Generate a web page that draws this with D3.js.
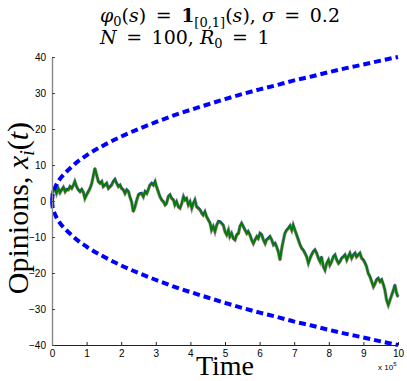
<!DOCTYPE html>
<html>
<head>
<meta charset="utf-8">
<script src="https://cdn.jsdelivr.net/npm/d3@7/dist/d3.min.js"></script>
<style>
  html, body { margin: 0; padding: 0; background: #fff; }
  svg { display: block; }
  .axis text { font-family: "Liberation Sans", Arial, sans-serif; font-size: 10px; fill: #000; }
</style>
</head>
<body>
<svg id="chart" width="407" height="381"></svg>
<script>
// ---- data ----
const xTicks = [0, 1, 2, 3, 4, 5, 6, 7, 8, 9, 10];
const yTicks = [-40, -30, -20, -10, 0, 10, 20, 30, 40];

// bound curves (time in units of 1e5)
const boundT = [0, 0.02, 0.05, 0.1, 0.2, 0.35, 0.5, 0.75, 1, 1.5, 2, 2.5, 3, 3.5, 4, 4.5, 5, 5.5, 6, 6.5, 7, 7.5, 8, 8.5, 9, 9.5, 10];
const upperV = [0, 1.8, 2.8, 4.0, 5.7, 7.5, 8.9, 11.0, 12.7, 15.5, 17.9, 20.0, 21.9, 23.7, 25.3, 26.8, 28.3, 29.7, 31.0, 32.2, 33.5, 34.6, 35.8, 36.9, 37.9, 39.0, 40.0];
const lowerV = [0, -1.8, -2.8, -4.0, -5.7, -7.5, -8.9, -11.0, -12.7, -15.5, -17.9, -20.0, -21.9, -23.7, -25.3, -26.8, -28.3, -29.7, -31.0, -32.2, -33.5, -34.6, -35.8, -36.9, -37.9, -39.0, -40.0];

// clustered opinions (the 100 agents move together)
const opinionT = [0, 0.02, 0.09, 0.13, 0.18, 0.23, 0.28, 0.33, 0.38, 0.42, 0.47, 0.52, 0.57, 0.62, 0.66, 0.71, 0.76, 0.81, 0.86, 0.91, 0.95,
  1.00, 1.05, 1.10, 1.15, 1.19, 1.24, 1.29, 1.34, 1.39, 1.44, 1.48, 1.53, 1.58, 1.63, 1.68, 1.72, 1.77, 1.82, 1.87, 1.92, 1.97,
  2.01, 2.06, 2.11, 2.16, 2.21, 2.25, 2.30, 2.35, 2.40, 2.45, 2.50, 2.54, 2.59, 2.64, 2.69, 2.74, 2.78, 2.83, 2.88, 2.93, 2.98,
  3.02, 3.07, 3.12, 3.17, 3.22, 3.27, 3.31, 3.36, 3.41, 3.46, 3.51, 3.55, 3.60, 3.65, 3.70, 3.75, 3.80, 3.84, 3.89, 3.94, 3.99,
  4.04, 4.08, 4.13, 4.18, 4.23, 4.28, 4.33, 4.37, 4.42, 4.47, 4.52, 4.57, 4.61, 4.66, 4.71, 4.76, 4.81, 4.86, 4.90, 4.95,
  5.00, 5.05, 5.10, 5.14, 5.19, 5.24, 5.29, 5.34, 5.39, 5.43, 5.48, 5.53, 5.58, 5.63, 5.67, 5.72, 5.77, 5.82, 5.87, 5.92, 5.96,
  6.01, 6.06, 6.11, 6.16, 6.20, 6.25, 6.30, 6.35, 6.40, 6.45, 6.49, 6.54, 6.59, 6.64, 6.69, 6.73, 6.78, 6.83, 6.88, 6.93, 6.97,
  7.02, 7.07, 7.12, 7.17, 7.22, 7.26, 7.31, 7.36, 7.41, 7.46, 7.50, 7.55, 7.60, 7.65, 7.70, 7.75, 7.79, 7.84, 7.89, 7.94, 7.99,
  8.03, 8.08, 8.13, 8.18, 8.23, 8.28, 8.32, 8.37, 8.42, 8.47, 8.52, 8.56, 8.61, 8.66, 8.71, 8.76, 8.80, 8.85, 8.90, 8.95,
  9.00, 9.05, 9.09, 9.14, 9.19, 9.24, 9.29, 9.34, 9.38, 9.43, 9.48, 9.53, 9.58, 9.62, 9.67, 9.72, 9.77, 9.82, 9.87, 9.91, 9.96, 10.00];
const opinionV = [1.5, 2.6, 3.2, 2.1, 3.5, 2.3, 3.1, 3.8, 2.6, 3.2, 3.1, 4.0, 3.5, 4.4, 5.4, 4.0, 3.1, 2.6, 3.2, 2.3, 0.7,
  1.7, 2.6, 3.5, 4.9, 6.8, 9.1, 7.2, 5.4, 4.9, 5.4, 4.0, 4.4, 4.9, 3.5, 4.0, 4.4, 5.4, 6.0, 4.9, 4.0, 4.4,
  3.5, 3.1, 2.1, 3.1, 2.6, 1.2, -0.2, -3.0, -1.6, 0.3, 1.7, 2.0, 2.1, 1.2, 2.6, 2.1, 3.1, 4.4, 4.9, 4.4, 5.4,
  4.0, 2.6, 1.2, 0.3, -0.2, -1.1, -0.7, 1.2, 1.7, 0.7, 0.3, -1.1, -0.2, -1.6, -2.0, -0.7, 1.2, 0.3, 0.7, -1.1, -0.2,
  -2.0, -0.7, 0.3, -1.6, -2.0, -2.5, -3.4, -3.9, -3.0, -4.4, -5.3, -6.2, -8.1, -7.1, -8.5, -6.7, -5.7, -5.8, -6.2, -6.7,
  -8.5, -9.4, -8.1, -9.9, -9.0, -10.4, -10.8, -9.4, -9.0, -7.1, -6.2, -7.1, -8.1, -9.0, -8.5, -9.4, -10.8, -11.8, -10.8, -9.9, -10.4,
  -9.0, -9.4, -10.8, -11.8, -10.8, -10.4, -9.9, -10.8, -12.2, -11.8, -12.7, -14.1, -16.4, -13.2, -10.8, -9.0, -8.1, -7.6, -6.9, -8.1, -6.7,
  -8.1, -9.4, -10.8, -12.2, -13.2, -13.6, -14.5, -15.5, -17.3, -15.9, -15.0, -14.1, -13.6, -14.5, -15.9, -16.9, -15.5, -18.2, -19.2, -17.3, -16.4,
  -17.8, -16.9, -15.5, -15.0, -16.4, -17.3, -16.9, -15.9, -15.5, -15.0, -16.4, -15.5, -14.5, -15.9, -15.0, -14.5, -15.5, -15.0, -14.5, -15.9,
  -16.4, -17.3, -18.2, -20.1, -21.0, -22.4, -23.8, -22.9, -21.9, -21.5, -22.4, -21.9, -23.3, -24.7, -27.5, -28.9, -27.5, -26.1, -24.7, -23.3, -25.7, -26.6];

const svg = d3.select("#chart");
const margin = { top: 57, right: 9, bottom: 36, left: 52 };
const W = 407, H = 381;

const x = d3.scaleLinear().domain([0, 10]).range([margin.left, W - margin.right]);
const y = d3.scaleLinear().domain([-40, 40]).range([H - margin.bottom, margin.top]);

// opinions band: a few coloured agents under the green one
const opinions = opinionT.map((t, i) => [t, opinionV[i]]);
const line = d3.line().x(d => x(d[0])).y(d => y(d[1]));

const layers = [
  { color: "#333", width: 3.4, dy: 0, op: 0.55 },
  { color: "#0000ff", width: 1.2, dy: -0.9, op: 0.8 },
  { color: "#ff0000", width: 1.1, dy: 0.9, op: 0.6 },
  { color: "#bf00bf", width: 1, dy: 0.5, op: 0.6 },
  { color: "#008000", width: 1.9, dy: 0, op: 1 },
];
layers.forEach(l => {
  svg.append("path")
    .datum(opinions)
    .attr("d", line)
    .attr("transform", `translate(0,${l.dy})`)
    .attr("fill", "none")
    .attr("stroke", l.color)
    .attr("stroke-width", l.width)
    .attr("stroke-opacity", l.op)
    .attr("stroke-linejoin", "miter");
});

// dashed bound curves
const smooth = d3.line().x(d => x(d[0])).y(d => y(d[1])).curve(d3.curveMonotoneX);
[upperV, lowerV].forEach(vals => {
  svg.append("path")
    .datum(boundT.map((t, i) => [t, vals[i]]))
    .attr("d", smooth)
    .attr("fill", "none")
    .attr("stroke", "#0000ff")
    .attr("stroke-width", 4)
    .attr("stroke-dasharray", "7,4");
});

// axes (MATLAB style: inward ticks, box off)
const gx = svg.append("g").attr("class", "axis")
  .attr("transform", `translate(0,${y(-40)})`)
  .call(d3.axisBottom(x).tickValues(xTicks).tickSizeInner(-3).tickSizeOuter(0).tickPadding(5));
gx.select(".domain").attr("stroke", "#222");
gx.selectAll(".tick line").attr("stroke", "#222");

const gy = svg.append("g").attr("class", "axis")
  .attr("transform", `translate(${x(0)},0)`)
  .call(d3.axisLeft(y).tickValues(yTicks).tickSizeInner(-3).tickSizeOuter(0).tickPadding(6));
gy.select(".domain").attr("stroke", "#888").attr("stroke-width", 1.4);
gy.selectAll(".tick line").attr("stroke", "#444");

svg.append("text")
  .attr("x", 378).attr("y", 370)
  .style("font-family", "Liberation Sans, Arial, sans-serif")
  .style("font-size", "8px")
  .text("x 10")
  .append("tspan").attr("dy", -4).style("font-size", "6px").text("5");

// rich text helper: pieces with italic / bold / sub shifts
function rich(el, parts) {
  parts.forEach(p => {
    const ts = el.append("tspan").text(p.t);
    if (p.i) ts.style("font-style", "italic");
    if (p.b) ts.style("font-weight", "bold");
    if (p.sub) ts.attr("dy", p.sub).style("font-size", p.fs || "13px");
    if (p.back) ts.attr("dy", p.back);
  });
}

const serif = "'DejaVu Serif', 'Liberation Serif', serif";
const E = "\u2002";   // wide math spacing around "="

const t1 = svg.append("text").attr("x", 100).attr("y", 22)
  .style("font-family", serif).style("font-size", "19px");
rich(t1, [
  { t: "φ", i: true }, { t: "0", sub: 4 }, { t: "(", back: -4 }, { t: "s", i: true },
  { t: ")" + E + "=" + E }, { t: "1", b: true }, { t: "[0,1]", sub: 5 }, { t: "(", back: -5 },
  { t: "s", i: true }, { t: "), " }, { t: "σ", i: true }, { t: E + "=" + E + "0.2" }
]);

const t2 = svg.append("text").attr("x", 100).attr("y", 44)
  .style("font-family", serif).style("font-size", "19px");
rich(t2, [
  { t: "N", i: true }, { t: E + "=" + E + "100, " }, { t: "R", i: true }, { t: "0", sub: 4 }, { t: E + "=" + E + "1", back: -4 }
]);

const labelFont = "'Liberation Serif', 'DejaVu Serif', serif";
const yl = svg.append("text")
  .attr("transform", "translate(28,208) rotate(-90)")
  .attr("text-anchor", "middle")
  .style("font-family", labelFont).style("font-size", "30px");
rich(yl, [
  { t: "Opinions, " }, { t: "x", i: true }, { t: "i", i: true, sub: 6, fs: "20px" },
  { t: "(", back: -6 }, { t: "t", i: true }, { t: ")" }
]);

svg.append("text")
  .attr("x", 225).attr("y", 375)
  .attr("text-anchor", "middle")
  .style("font-family", labelFont).style("font-size", "28px")
  .text("Time");
</script>
</body>
</html>
